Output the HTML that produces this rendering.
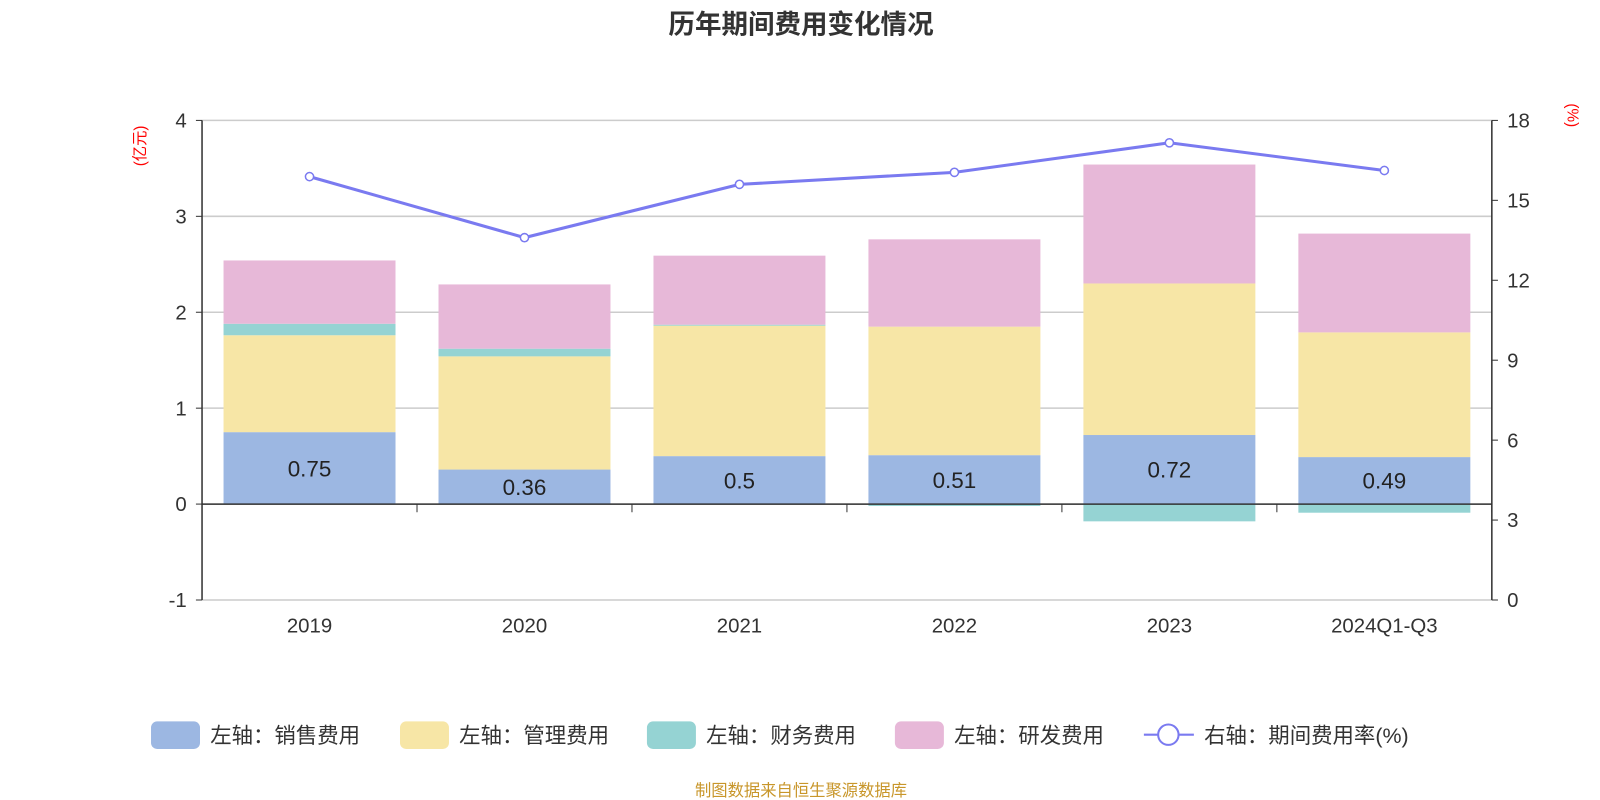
<!DOCTYPE html>
<html><head><meta charset="utf-8"><style>
body{margin:0;background:#fff;font-family:"Liberation Sans","Noto Sans CJK SC",sans-serif;overflow:hidden;}
svg{display:block;}
svg text{font-family:"Liberation Sans","Noto Sans CJK SC",sans-serif;}
</style></head><body>
<svg id="c" width="1600" height="800" viewBox="0 0 1568 784"></svg>
<script>
const categories=["2019","2020","2021","2022","2023","2024Q1-Q3"];
const sales=[0.75,0.36,0.5,0.51,0.72,0.49];
const mgmt=[1.01,1.18,1.36,1.34,1.58,1.30];
const finance=[0.12,0.08,0.01,-0.02,-0.18,-0.09];
const rnd=[0.66,0.67,0.72,0.91,1.24,1.03];
const rate=[15.89,13.6,15.6,16.05,17.16,16.12];
const leftTicks=[-1,0,1,2,3,4];
const rightTicks=[0,3,6,9,12,15,18];
const svg=document.getElementById('c');
const NS='http://www.w3.org/2000/svg';
function mk(t,a,p){const e=document.createElementNS(NS,t);for(const k in a)e.setAttribute(k,a[k]);(p||svg).appendChild(e);return e;}
const X0=198,X1=1462,YT=118,YB=588;
const yL=v=>YB-(v+1)/5*(YB-YT);
const yR=v=>YB-v/18*(YB-YT);
const bw=(X1-X0)/categories.length;
const xc=i=>X0+bw*(i+0.5);
let t=mk('text',{x:785,y:33,'text-anchor':'middle','font-size':26,'font-weight':'bold',fill:'#333'});t.textContent='历年期间费用变化情况';

leftTicks.forEach(v=>{
 const g=mk('line',{x1:X0,x2:X1,y1:yL(v),y2:yL(v),stroke:'#ccc','stroke-width':1.5});
 
 const l=mk('text',{x:183,y:yL(v)+7,'text-anchor':'end','font-size':20,fill:'#333'});l.textContent=v;
 
});
rightTicks.forEach(v=>{
 const l=mk('text',{x:1477,y:yR(v)+7,'font-size':20,fill:'#333'});l.textContent=v;
 
 mk('line',{x1:X1,x2:X1+6,y1:yR(v),y2:yR(v),stroke:'#333'});
});
leftTicks.forEach(v=>mk('line',{x1:X0-6,x2:X0,y1:yL(v),y2:yL(v),stroke:'#333'}));
mk('line',{x1:X0,x2:X0,y1:YT,y2:YB,stroke:'#333','stroke-width':1.5});
mk('line',{x1:X1,x2:X1,y1:YT,y2:YB,stroke:'#333','stroke-width':1.5});
let ua=mk('text',{transform:'translate(142,143) rotate(-90)','text-anchor':'middle','font-size':15,fill:'red'});ua.textContent='(亿元)';

let ub=mk('text',{transform:'translate(1536,113) rotate(90)','text-anchor':'middle','font-size':15,fill:'red'});ub.textContent='(%)';

const series=[[sales,'#9cb7e2','sales'],[mgmt,'#f7e6a6','mgmt'],[finance,'#95d3d3','finance'],[rnd,'#e7b8d8','rnd']];
categories.forEach((c,i)=>{
 let pos=0,neg=0;
 series.forEach(([arr,col,nm])=>{
  const v=arr[i];let y0,y1;
  if(v>=0){y0=pos;y1=pos+v;pos=y1;}else{y0=neg;y1=neg+v;neg=y1;}
  const r=mk('rect',{x:xc(i)-bw*0.4,width:bw*0.8,y:Math.min(yL(y0),yL(y1)),height:Math.abs(yL(y0)-yL(y1)),fill:col});
  
 });
 const l=mk('text',{x:xc(i),y:yL(sales[i]/2)+8,'text-anchor':'middle','font-size':22,fill:'#222'});l.textContent=sales[i];
 
 const xl=mk('text',{x:xc(i),y:620,'text-anchor':'middle','font-size':20,fill:'#333'});xl.textContent=c;
 
 mk('line',{x1:X0+bw*(i+1),x2:X0+bw*(i+1),y1:yL(0),y2:yL(0)+8,stroke:'#333'});
});
mk('line',{x1:X0,x2:X1,y1:yL(0),y2:yL(0),stroke:'#333','stroke-width':1.5});
const pl=mk('polyline',{points:rate.map((v,i)=>xc(i)+','+yR(v)).join(' '),fill:'none',stroke:'#7a7af0','stroke-width':3});

rate.forEach((v,i)=>{const p=mk('circle',{cx:xc(i),cy:yR(v),r:4,fill:'#fff',stroke:'#7a7af0','stroke-width':1.5});
 });
const leg=[['#9cb7e2','左轴：销售费用',148],['#f7e6a6','左轴：管理费用',392],['#95d3d3','左轴：财务费用',634],['#e7b8d8','左轴：研发费用',877]];
leg.forEach(([col,txt,x])=>{
 const g=mk('g',{});
 mk('rect',{x:x,y:707,width:48,height:27,rx:6,fill:col},g);
 const tt=mk('text',{x:x+58,y:728,'font-size':21,fill:'#333'},g);tt.textContent=txt;
});
const g2=mk('g',{});
mk('line',{x1:1121,x2:1170,y1:720,y2:720,stroke:'#7a7af0','stroke-width':2},g2);
mk('circle',{cx:1145,cy:720,r:10,fill:'#fff',stroke:'#7a7af0','stroke-width':2},g2);
const t2=mk('text',{x:1180,y:728,'font-size':21,fill:'#333'},g2);t2.textContent='右轴：期间费用率(%)';
const src=mk('text',{x:785,y:780,'text-anchor':'middle','font-size':16,fill:'#c8962a'});src.textContent='制图数据来自恒生聚源数据库';

</script>
</body></html>
